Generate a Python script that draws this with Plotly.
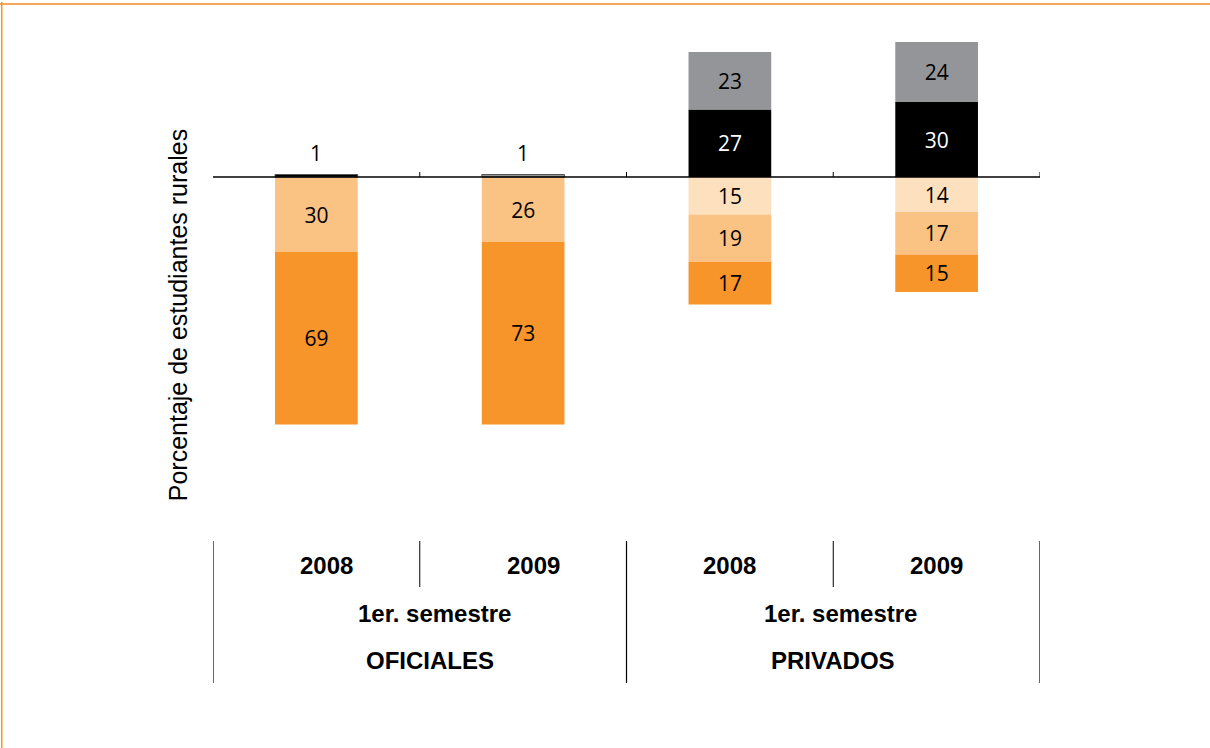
import plotly.graph_objects as go

# categories (año / semestre / sector)
years = ["2008", "2009", "2008", "2009"]
sectors = ["OFICIALES", "PRIVADOS"]
semester = "1er. semestre"
cats = ["of-2008", "of-2009", "pr-2008", "pr-2009"]

# positive part (above the axis)
black_vals = [1, 0, 27, 30]
gray_vals = [0, 1, 23, 24]
# negative part (below the axis), nearest to axis first
peach_vals = [0, 0, -15, -14]
light_vals = [-30, -26, -19, -17]
orange_vals = [-69, -73, -17, -15]

ORANGE = "#F7942A"
LIGHT = "#FBC383"
PEACH = "#FDE0BE"
GRAY = "#939598"
BLACK = "#000000"


def labels(vals):
    return ["" if abs(v) <= 1 else str(abs(v)) for v in vals]


fig = go.Figure()
series = [
    (peach_vals, PEACH, "black"),
    (light_vals, LIGHT, "black"),
    (orange_vals, ORANGE, "black"),
    (black_vals, BLACK, "white"),
    (gray_vals, GRAY, "black"),
]
for vals, col, tcol in series:
    # only the very thin bars get a dark outline
    lw = [1 if abs(v) == 1 else 0 for v in vals]
    fig.add_trace(go.Bar(
        x=cats, y=vals, marker=dict(color=col, line=dict(width=lw, color="#555555")),
        text=labels(vals), textposition="inside", insidetextanchor="middle",
        textangle=0, constraintext="none",
        textfont=dict(family="Open Sans", size=21, color=tcol),
        width=0.4, showlegend=False, hoverinfo="skip",
    ))

# "1" labels over the thin bars
for i, c in enumerate(cats):
    top = black_vals[i] + gray_vals[i]
    if 0 < top <= 1:
        fig.add_annotation(x=c, y=top, text=str(top), showarrow=False,
                           yanchor="bottom", yshift=6,
                           font=dict(family="Open Sans", size=21, color="black"))

# axis line with category tick marks
shapes = [dict(type="line", xref="paper", yref="y", x0=0, x1=1, y0=0, y1=0,
               line=dict(color="black", width=1.5))]
for k in range(1, 5):
    shapes.append(dict(type="line", xref="x", yref="y", x0=k - 0.5, x1=k - 0.5,
                       y0=0, y1=2, line=dict(color="black", width=1)))

# category table below the plot (paper coordinates)
lab_font = dict(family="Liberation Sans", size=24, color="black")
year_shift = [10, 10, 0, 0]
for i, c in enumerate(cats):
    fig.add_annotation(x=c, yref="paper", y=-0.076, text="<b>%s</b>" % years[i],
                       showarrow=False, font=lab_font, yanchor="middle",
                       xanchor="center", xshift=year_shift[i])
for j, s in enumerate(sectors):
    fig.add_annotation(x=2 * j + 0.5, yref="paper", y=-0.172, text="<b>%s</b>" % semester,
                       showarrow=False, font=lab_font, yanchor="middle",
                       xanchor="center", xshift=[15, 7][j])
    fig.add_annotation(x=2 * j + 0.5, yref="paper", y=-0.266, text="<b>%s</b>" % s,
                       showarrow=False, font=lab_font, yanchor="middle",
                       xanchor="center", xshift=[10, 0][j])
for xv in [-0.5, 1.5, 3.5]:
    shapes.append(dict(type="line", xref="x", yref="paper", x0=xv, x1=xv, y0=-0.028, y1=-0.312,
                       line=dict(color="black", width=1.2)))
for xv in [0.5, 2.5]:
    shapes.append(dict(type="line", xref="x", yref="paper", x0=xv, x1=xv, y0=-0.028, y1=-0.12,
                       line=dict(color="black", width=1)))

# page frame (orange)
shapes.append(dict(type="line", xref="paper", yref="paper", x0=-0.26, x1=1.3,
                   y0=1.046, y1=1.046, line=dict(color="#F4A65A", width=2)))
shapes.append(dict(type="line", xref="paper", yref="paper", x0=-0.2555, x1=-0.2555,
                   y0=1.05, y1=-0.5, line=dict(color="#F7941D", width=1.5)))

fig.add_annotation(xref="paper", yref="paper", x=-0.042, y=0.424,
                   xanchor="center", yanchor="middle",
                   text="Porcentaje de estudiantes rurales", textangle=-90,
                   showarrow=False, font=dict(family="Liberation Sans", size=25, color="black"))

fig.update_layout(
    barmode="relative",
    width=1210, height=748,
    margin=dict(l=213, r=170, t=27, b=221),
    plot_bgcolor="white", paper_bgcolor="white",
    shapes=shapes,
    xaxis=dict(range=[-0.5, 3.5], showticklabels=False, showgrid=False, zeroline=False,
               ticks=""),
    yaxis=dict(range=[-140, 60], visible=False, showgrid=False, zeroline=False),
)

fig.write_html("out.html", config={"displayModeBar": False},
               post_script="document.body.style.margin='0';")
